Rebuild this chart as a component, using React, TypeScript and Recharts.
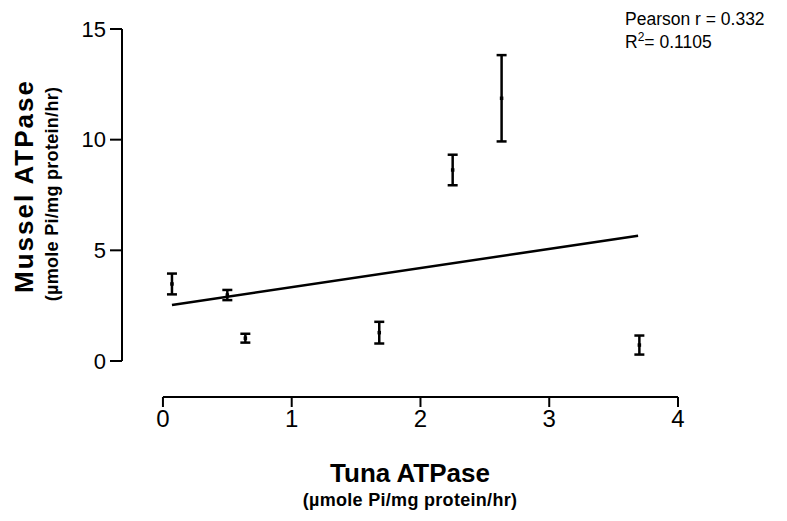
import { ScatterChart, Scatter, XAxis, YAxis, ErrorBar, ReferenceLine } from 'recharts';

// Tuna vs mussel ATPase activity, mean ± SEM
const tunaAtpase = [0.07, 0.5, 0.64, 1.68, 2.25, 2.63, 3.7];
const musselAtpase = [3.48, 2.98, 1.03, 1.28, 8.63, 11.87, 0.72];
const musselSem = [0.47, 0.23, 0.2, 0.49, 0.69, 1.95, 0.43];

// linear fit end points
const fitX = [0.07, 3.69];
const fitY = [2.53, 5.66];

const xTicks = [0, 1, 2, 3, 4];
const yTicks = [0, 5, 10, 15];

// axes are drawn detached from the plot corner (Prism style)
const X_MIN = -0.318;
const Y_MIN = -1.627;

const FONT = '"Liberation Sans", Arial, Helvetica, sans-serif';

const points = tunaAtpase.map((x, i) => ({ x, y: musselAtpase[i], err: musselSem[i] }));
const fitLine = fitX.map((x, i) => ({ x, y: fitY[i] }));

// tiny square mean marker
const Dot = (props: any) => {
  const { cx, cy } = props;
  if (cx == null || cy == null) return null;
  return <rect x={cx - 1.75} y={cy - 1.75} width={3.5} height={3.5} fill="#000" />;
};

export default function App() {
  return (
    <div style={{ position: 'fixed', left: 0, top: 0, width: 787, height: 521, background: '#fff' }}>
      <ScatterChart width={787} height={521} margin={{ top: 29, right: 109, bottom: 94, left: 0 }}>
        <XAxis
          type="number"
          dataKey="x"
          domain={[X_MIN, 4]}
          ticks={xTicks}
          allowDataOverflow
          axisLine={false}
          tickLine={{ stroke: '#000', strokeWidth: 2 }}
          tickSize={10}
          tickMargin={3}
          tick={{ fill: '#000', fontSize: 24, fontFamily: FONT }}
          height={30}
        />
        <YAxis
          type="number"
          dataKey="y"
          domain={[Y_MIN, 15]}
          ticks={yTicks}
          allowDataOverflow
          axisLine={false}
          tickLine={{ stroke: '#000', strokeWidth: 2 }}
          tickSize={12}
          tickMargin={4}
          tick={{ fill: '#000', fontSize: 22, fontFamily: FONT }}
          width={122}
        />
        <ReferenceLine
          segment={[{ x: 0, y: Y_MIN }, { x: 4, y: Y_MIN }]}
          stroke="#000"
          strokeWidth={2}
          ifOverflow="visible"
        />
        <ReferenceLine
          segment={[{ x: X_MIN, y: 0 }, { x: X_MIN, y: 15 }]}
          stroke="#000"
          strokeWidth={2}
          ifOverflow="visible"
        />
        <Scatter
          data={fitLine}
          line={{ stroke: '#000', strokeWidth: 2.5 }}
          shape={() => null}
          fill="#000"
          isAnimationActive={false}
        />
        <Scatter data={points} shape={Dot} fill="#000" isAnimationActive={false}>
          <ErrorBar dataKey="err" direction="y" width={5} stroke="#000" strokeWidth={2.5} />
        </Scatter>
      </ScatterChart>
      <svg
        width={787}
        height={521}
        style={{ position: 'absolute', left: 0, top: 0, pointerEvents: 'none', fontFamily: FONT }}
      >
        <text x={625} y={25} fontSize={17.5} fill="#000">
          Pearson r = 0.332
        </text>
        <text x={625} y={48} fontSize={17.5} fill="#000">
          R<tspan dy={-7} fontSize={12}>2</tspan>
          <tspan dy={7}>= 0.1105</tspan>
        </text>
        <text x={410} y={482} textAnchor="middle" fontSize={26} fontWeight="bold" fill="#000">
          Tuna ATPase
        </text>
        <text
          x={410}
          y={506}
          textAnchor="middle"
          fontSize={18}
          fontWeight="bold"
          letterSpacing={0.3}
          fill="#000"
        >
          (µmole Pi/mg protein/hr)
        </text>
        <text
          transform="translate(33,186) rotate(-90)"
          textAnchor="middle"
          fontSize={26}
          fontWeight="bold"
          letterSpacing={2}
          fill="#000"
        >
          Mussel ATPase
        </text>
        <text
          transform="translate(58,194) rotate(-90)"
          textAnchor="middle"
          fontSize={18}
          fontWeight="bold"
          letterSpacing={0.3}
          fill="#000"
        >
          (µmole Pi/mg protein/hr)
        </text>
      </svg>
    </div>
  );
}
